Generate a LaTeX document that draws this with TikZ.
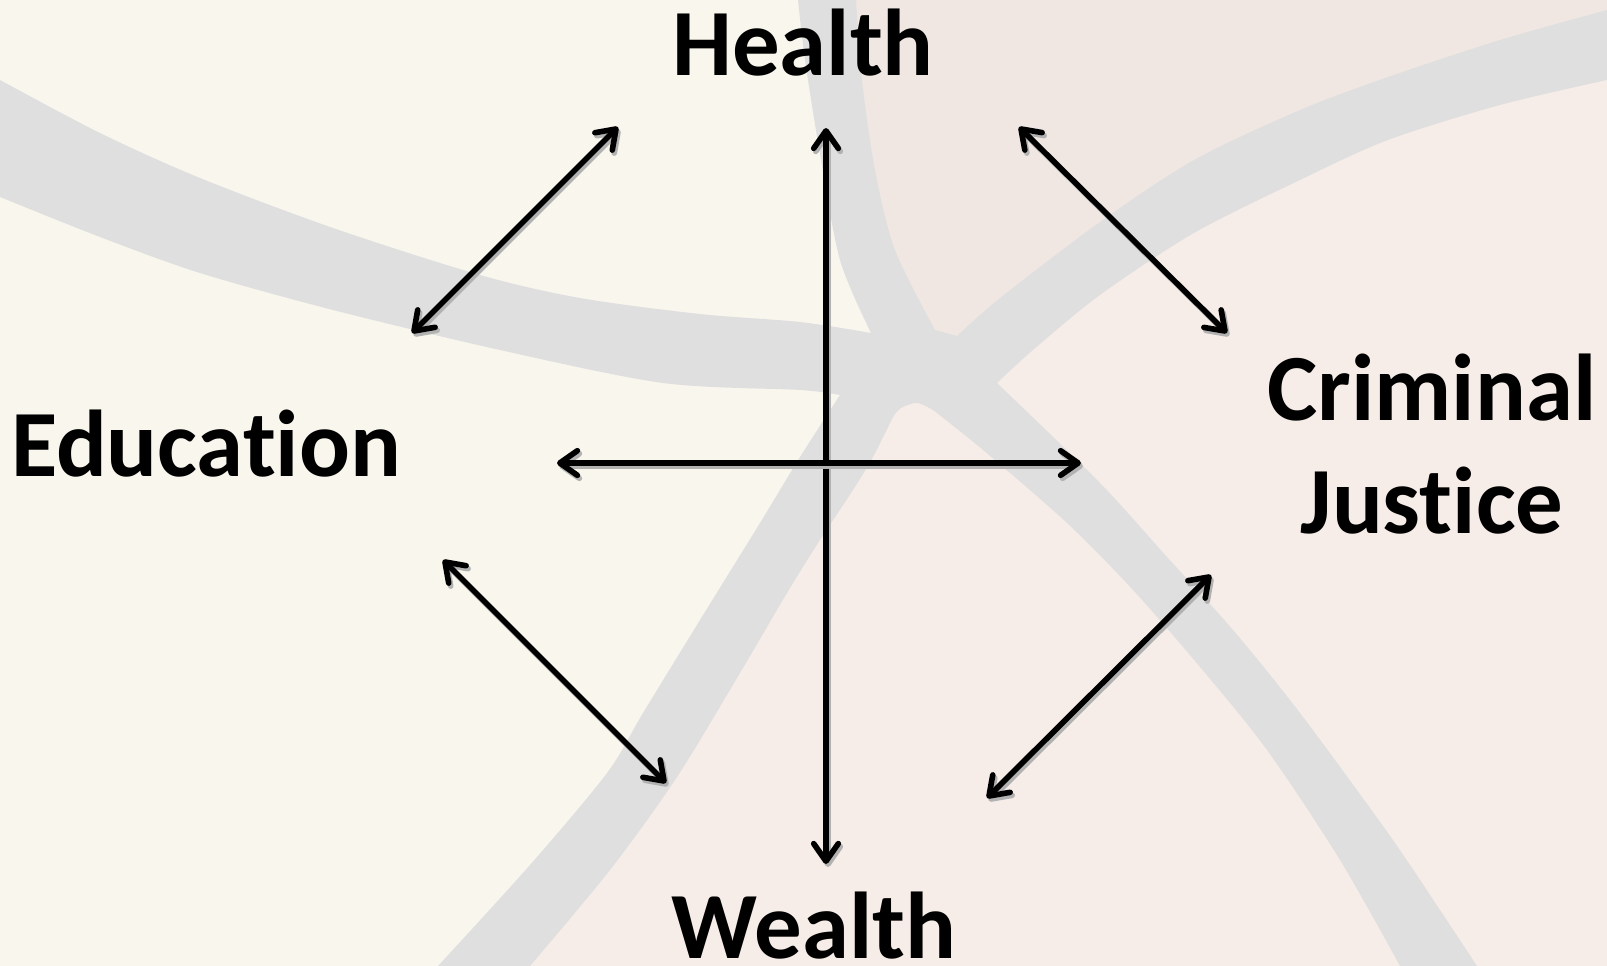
\documentclass[tikz,border=0pt]{standalone}
\usepackage{fontspec}
\setmainfont{Carlito}[Ligatures=NoCommon]
\usetikzlibrary{arrows.meta}
\definecolor{cream}{RGB}{249,246,237}
\definecolor{blush}{RGB}{246,237,232}
\definecolor{rosegray}{RGB}{240,231,226}
\definecolor{swoosh}{RGB}{224,223,224}

\begin{document}
\begin{tikzpicture}[x=0.02cm, y=-0.02cm,
    topic/.style={font=\fontsize{54}{64}\selectfont\bfseries, inner sep=0pt, anchor=base},
    link/.style={{Straight Barb[length=10pt,width=14pt,round]}-{Straight Barb[length=10pt,width=14pt,round]},
      draw=black, line width=3.2pt, line cap=round},
    drop/.style={link, draw=black!30}]
  \useasboundingbox (0,0) rectangle (1607,966);
  \begin{scope}
    \clip (0,0) rectangle (1607,966);
    % background tints
    \fill[cream] (0,0) rectangle (1607,966);
    \fill[blush] (827,0) -- (845,154) -- (885,300) -- (880,400) -- (837,457) -- (804,566)
      -- (642,775) -- (484,966) -- (1607,966) -- (1607,0) -- cycle;
    \fill[rosegray] (827,0) -- (845,154) -- (885,300) -- (920,345) -- (1000,334) -- (1100,262)
      -- (1194,196) -- (1300,145) -- (1388,108) -- (1500,75) -- (1607,45) -- (1607,0) -- cycle;
    % grey swooshes
    \fill[swoosh] plot[smooth] coordinates {(0,80) (100,133) (200,178) (333,228) (480,275) (580,298) (700,314) (800,322) (871,333)}
      -- plot[smooth] coordinates {(871,333) (840,260) (820,154) (805,60) (798,0)}
      -- (856,0)
      -- plot[smooth] coordinates {(856,0) (862,80) (875,170) (895,250) (935,330)}
      -- plot[smooth] coordinates {(957,336) (1000,298) (1100,222) (1194,160) (1300,110) (1388,77) (1500,40) (1607,10)}
      -- (1607,80)
      -- plot[smooth] coordinates {(1607,80) (1500,105) (1388,140) (1300,180) (1194,233) (1100,295) (1033,350) (997,383)}
      -- plot[smooth] coordinates {(997,383) (1100,483) (1167,557) (1233,630) (1300,713) (1388,833) (1440,910) (1477,966)}
      -- (1400,966)
      -- plot[smooth] coordinates {(1400,966) (1340,860) (1267,750) (1200,667) (1133,590) (1067,523) (983,450) (933,410)}
      -- plot[smooth] coordinates {(933,410) (917,403) (901,408) (893,417)}
      -- plot[smooth] coordinates {(893,417) (873,457) (853,490) (820,540) (787,593) (740,673) (677,777) (610,870) (530,966)}
      -- (438,966)
      -- plot[smooth] coordinates {(438,966) (530,865) (607,773) (643,713) (700,620) (760,523) (800,457) (840,395)}
      -- plot[smooth] coordinates {(840,395) (800,390) (663,383) (500,350) (333,310) (200,273) (100,237) (0,197)}
      -- cycle;
  \end{scope}

  % the four topics
  \node[topic] (health) at (803,76) {Health};
  \node[topic] (educ) at (206,477) {Education};
  \node[topic, align=center] (crime) at (1432,533) {Criminal\\Justice};
  \node[topic] (wealth) at (814,958) {Wealth};

  % arrow ends
  \coordinate (hw1) at (826,128);  \coordinate (hw2) at (826,864);
  \coordinate (ec1) at (557,463);  \coordinate (ec2) at (1081,463);
  \coordinate (eh1) at (412,333);  \coordinate (eh2) at (618,127);
  \coordinate (hc1) at (1019,127); \coordinate (hc2) at (1227,333);
  \coordinate (ew1) at (443,560);  \coordinate (ew2) at (666,783);
  \coordinate (cw1) at (1211,575); \coordinate (cw2) at (987,798);

  \foreach \a/\b in {hw1/hw2, ec1/ec2, eh1/eh2, hc1/hc2, ew1/ew2, cw1/cw2} {
    \draw[drop] ([shift={(2,3)}]\a) -- ([shift={(2,3)}]\b);
    \draw[link] (\a) -- (\b);
  }
\end{tikzpicture}
\end{document}
